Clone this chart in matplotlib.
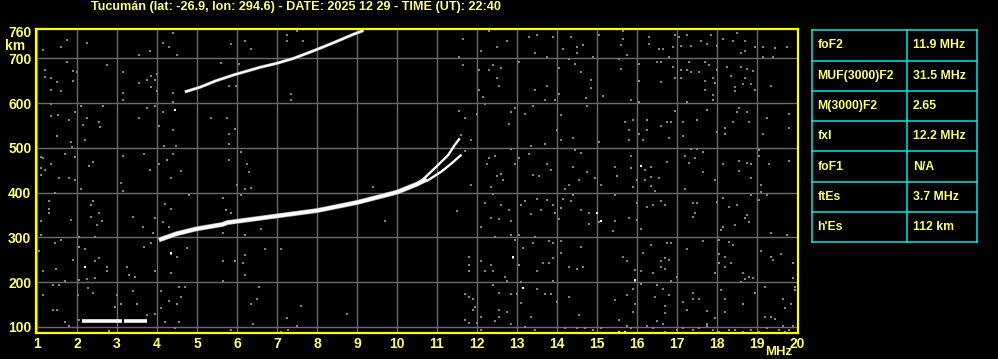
import matplotlib
matplotlib.use("Agg")
import matplotlib.pyplot as plt
import numpy as np

# ---------------- data ----------------
title = "Tucumán (lat: -26.9, lon: 294.6) - DATE: 2025 12 29 - TIME (UT): 22:40"
x_ticks = list(range(1, 21))
y_ticks = [100, 200, 300, 400, 500, 600, 700, 760]

# sporadic E trace (MHz, km)
es_freq = [2.12, 3.12, np.nan, 3.18, 3.76]
es_height = [114, 114, np.nan, 114, 114]

# F2 main trace (o-mode low part)
f2_freq = [4.10, 4.48, 4.98, 5.64, 5.75, 7.0, 8.0, 9.0, 10.0, 10.5, 10.69]
f2_height = [296, 308, 319, 329, 333, 348, 360, 378, 401, 419, 428]
# upper branch near critical frequency
f2o_freq = [10.55, 10.75, 11.03, 11.28, 11.44, 11.55]
f2o_height = [421, 438, 462, 484, 506, 519]
# lower branch
f2x_freq = [10.5, 10.78, 11.11, 11.36, 11.51, 11.59]
f2x_height = [419, 428, 447, 465, 477, 483]

# second-hop F2 trace
f2h_freq = [4.73, 5.06, 5.48, 5.92, 6.58, 7.0, 7.42, 7.92, 8.42, 8.92, 9.13]
f2h_height = [626, 635, 650, 663, 680, 689, 700, 717, 735, 754, 761]

# table
table_names = ["foF2", "MUF(3000)F2", "M(3000)F2", "fxI", "foF1", "ftEs", "h'Es"]
table_values = ["11.9 MHz", "31.5 MHz", "2.65", "12.2 MHz", "N/A", "3.7 MHz", "112 km"]

# background noise echoes (MHz, km)
noise_f = [
1.14,1.60,1.75,2.25,4.39,4.14,4.31,3.83,3.56,4.49,1.74,2.75,1.19,1.19,1.35,1.51,1.89,1.89,1.35,1.60,
1.99,3.14,3.85,3.99,3.95,3.75,3.56,3.85,3.99,3.14,4.39,3.15,4.39,5.60,1.35,2.09,2.64,3.74,3.95,4.14,
1.35,1.52,1.81,1.96,2.24,2.54,2.58,2.14,3.54,4.04,4.39,5.35,1.49,2.19,1.85,1.88,4.18,4.48,1.70,1.96,
1.09,1.16,1.35,1.09,1.19,1.09,2.29,2.39,3.14,3.68,3.83,4.04,4.24,4.39,4.59,1.55,1.79,1.96,2.10,3.10,
3.14,4.35,4.81,1.45,1.30,1.30,1.30,2.34,2.39,2.54,2.35,2.63,2.49,1.10,1.85,3.39,3.94,4.14,4.19,4.35,
4.29,3.64,3.89,5.64,5.73,1.10,1.45,1.60,2.04,2.45,2.06,2.21,1.04,1.89,2.44,2.54,2.75,2.75,3.24,3.44,
3.29,3.85,3.68,4.74,4.49,4.34,5.64,5.64,5.64,1.15,1.48,1.69,1.40,1.55,2.06,2.24,2.44,2.28,2.39,1.14,
2.03,2.99,3.39,3.94,4.35,4.11,4.55,4.69,4.59,4.29,4.51,4.09,3.49,3.09,2.94,1.40,1.51,1.69,1.81,2.06,
2.81,3.74,3.94,4.21,4.54,4.44,
5.85,6.19,6.34,7.25,7.25,7.65,7.50,6.05,5.79,5.98,7.35,7.35,5.75,5.94,5.79,5.79,6.09,5.79,6.24,6.29,
5.99,6.19,6.34,6.09,5.85,6.59,6.19,6.69,7.09,6.19,5.94,6.14,6.19,6.54,6.49,6.34,7.59,7.24,8.74,6.39,
7.49,9.39,9.69,5.85,7.09,7.27,
12.30,11.65,12.74,12.50,12.09,11.55,13.29,13.49,13.89,14.34,14.64,14.49,14.49,14.14,13.44,13.74,13.04,
11.65,12.04,12.29,12.39,12.59,12.50,12.54,12.04,12.14,12.19,13.44,13.74,13.94,13.69,14.04,14.59,14.44,
14.29,14.84,14.84,14.04,14.73,15.15,14.89,15.04,11.55,11.69,12.00,12.84,12.94,12.80,13.19,13.39,14.09,
11.59,11.84,11.69,12.29,12.44,12.24,12.84,13.04,12.94,12.59,12.49,12.64,12.34,11.84,13.29,13.34,13.69,
13.99,14.09,14.39,14.44,14.59,13.74,13.84,13.39,13.54,14.39,14.54,14.29,14.19,14.94,15.09,14.74,15.04,
14.74,11.49,12.19,12.39,12.59,12.34,12.54,12.80,12.84,13.09,13.19,13.34,13.49,13.59,13.74,13.89,13.94,
14.09,14.04,14.14,14.34,14.39,14.59,14.79,14.79,15.04,12.09,12.44,12.84,13.04,12.94,13.44,13.39,13.14,
13.79,13.89,14.09,14.09,14.59,11.79,11.79,11.79,12.09,12.34,12.19,12.39,12.89,13.04,13.49,13.64,13.79,
13.89,14.29,14.49,14.64,12.69,12.74,12.84,12.99,13.09,13.09,12.54,12.39,12.54,12.74,12.84,12.54,13.19,
13.34,13.49,13.69,13.84,13.89,13.99,14.29,14.54,11.69,11.69,11.79,11.89,11.89,11.94,11.99,11.79,12.09,
12.09,12.44,13.44,14.19,14.49,14.69,14.89,15.09,
15.65,15.65,15.60,15.75,16.30,16.30,16.55,16.65,16.80,16.90,16.95,17.05,17.10,17.25,17.35,17.60,17.75,
17.85,18.00,18.15,18.40,18.50,18.70,18.95,18.60,18.70,19.15,19.45,19.75,19.15,19.40,15.55,15.60,16.05,
16.05,16.50,16.60,16.60,16.90,16.95,17.10,17.10,17.30,17.25,17.35,17.55,17.70,17.80,17.70,17.90,18.00,
17.95,17.70,17.90,17.90,18.25,18.35,18.45,18.45,18.60,18.70,18.75,18.90,18.85,18.95,19.35,18.65,15.85,
16.05,16.95,17.25,17.75,18.55,18.50,18.75,19.25,19.80,15.70,15.90,16.25,16.60,16.75,16.85,15.80,15.80,
16.05,16.25,16.15,16.80,17.15,17.15,17.50,18.00,18.20,18.20,18.40,18.80,19.15,19.80,17.35,17.50,17.65,
17.20,17.30,17.45,17.65,16.75,18.15,18.55,18.75,18.85,18.55,18.85,19.05,19.05,19.30,19.80,15.45,15.50,
15.85,15.85,16.20,16.35,16.35,16.55,15.90,16.00,16.20,16.35,16.45,17.20,17.95,19.10,19.10,19.25,19.05,
18.85,15.45,16.00,16.25,16.40,16.60,16.70,17.40,17.50,17.45,17.40,18.00,18.15,18.30,18.50,18.70,18.75,
18.80,18.45,18.15,18.10,15.80,16.00,15.45,15.40,16.10,19.35,19.75,16.35,16.75,16.85,17.65,18.05,18.30,
18.40,19.10,16.15,17.25,15.65,15.75,16.60,16.70,16.80,18.05,18.20,18.05,18.20,18.35,19.35,19.60,19.40,
15.95,16.10,16.40,16.60,16.70,16.85,17.00,17.95,18.65,18.70,18.80,18.90,18.60,19.90,19.90,15.95,16.10,
16.50,16.65,16.80,15.90,15.75,15.45,15.95,15.90,16.45,16.70,16.70,16.50,16.65,17.40,17.55,17.40,17.15,
17.25,17.75,17.95,17.75,18.10,18.20,18.20,18.65,18.95,19.20,19.65,19.70,19.85,19.95,19.95,15.55,15.75,
15.85,16.25,16.40,16.70,17.00,17.15,17.40,17.55,17.75,17.90,18.05,18.30,18.45,18.65,18.85,19.05,19.20,
19.35,19.45,19.25,19.55,19.65,19.80,19.90,19.70,
]
noise_h = [
718,726,741,735,757,735,726,717,707,707,692,684,674,659,657,648,672,650,629,626,
670,670,661,666,652,652,644,637,626,623,622,607,603,689,598,593,593,588,593,581,
571,573,562,581,566,558,546,550,567,549,540,567,526,518,514,501,505,505,486,479,
480,477,464,455,451,439,460,468,482,486,451,464,473,487,448,433,433,428,409,422,
404,433,395,399,381,363,354,373,381,355,346,337,328,337,340,346,343,334,375,363,
323,324,311,387,361,306,288,294,300,300,279,274,270,250,248,253,235,226,235,212,
216,287,278,277,257,263,309,248,203,226,229,203,194,194,205,207,209,186,175,171,
171,171,181,226,220,181,190,190,168,157,151,143,151,151,145,138,138,111,103,116,
90,126,129,111,111,98,
732,739,721,752,739,739,762,687,638,638,620,607,567,542,531,509,491,473,464,446,
417,408,411,395,354,319,305,274,274,261,247,243,216,189,162,151,147,120,129,107,
102,413,337,93,89,93,
761,743,739,725,716,703,748,752,748,748,730,725,712,721,712,703,692,
684,674,674,684,679,657,639,629,613,598,629,638,607,607,678,669,687,
698,652,634,620,611,616,703,752,582,567,576,581,590,553,576,593,573,
529,518,494,477,482,464,497,478,464,442,437,428,413,417,486,505,509,
540,518,522,495,489,464,451,439,437,457,428,417,409,433,416,446,514,
593,359,378,397,372,343,341,361,337,372,381,352,386,361,384,372,354,
365,341,386,381,395,361,354,331,335,324,302,305,305,294,302,287,276,
293,287,293,266,278,257,238,226,248,238,226,226,253,238,226,244,244,
253,235,230,235,212,203,173,173,201,153,175,194,138,133,107,122,99,
122,184,173,173,203,156,168,126,173,116,168,162,138,145,108,108,123,
93,113,93,98,98,98,93,98,
760,743,730,707,747,733,721,721,704,725,752,747,728,752,728,739,733,
752,728,743,739,757,739,726,712,716,726,724,726,704,704,698,676,687,
650,691,691,646,680,656,657,674,691,674,669,669,691,684,650,657,674,
644,629,617,607,680,661,635,626,680,656,676,672,643,629,639,643,607,
602,583,603,585,590,579,581,567,576,558,562,562,549,558,558,540,518,
531,540,518,522,558,527,562,536,544,532,558,558,531,544,497,497,491,
482,467,477,446,468,465,471,467,464,449,433,495,482,464,471,458,437,
482,455,451,458,436,433,413,428,428,415,404,408,428,417,402,395,384,
395,395,376,369,373,381,373,378,378,355,346,380,387,369,373,343,350,
335,328,324,317,344,339,337,314,319,311,306,283,288,288,292,294,290,
283,270,266,274,257,248,248,253,250,264,257,244,235,244,257,263,250,
227,226,221,235,230,203,212,221,221,208,212,210,200,244,209,203,197,
194,185,171,185,171,160,151,134,168,132,147,113,107,163,163,177,156,
138,136,120,107,183,162,133,151,177,190,162,142,151,183,190,116,102,
98,103,98,89,93,98,93,98,103,93,89,93,93,89,93,89,122,
122,117,98,93,103,93,103,89,
]
bright_f = [4.45, 4.35, 2.20, 12.89, 13.14, 14.99, 15.09, 16.10, 15.95, 15.55, 15.70]
bright_h = [585, 266, 235, 256, 186, 355, 337, 460, 205, 89, 89]

# ---------------- styling ----------------
YEL = "#ffff80"
TXT = "#ffff70"
fam = ["Liberation Sans", "DejaVu Sans"]

fig = plt.figure(figsize=(9.98, 3.59), dpi=100, facecolor="black")
ax = fig.add_axes([35.5 / 998, (359 - 333.3) / 359, (798 - 35.5) / 998, (333.3 - 29.3) / 359])
ax.set_facecolor("black")
ax.set_xlim(0.9625, 20.025)
ax.set_ylim(85.9, 764.8)

# grid
for xv in x_ticks[:-1]:
    ax.axvline(xv, color="#6a6a6a", lw=1.0, zorder=1)
for yv in y_ticks[:-1]:
    ax.axhline(yv, color="#6a6a6a", lw=1.0, zorder=1)

# noise
ax.plot(noise_f, noise_h, ls="none", marker="s", ms=1.6, mew=0, color="#858585", zorder=2)
ax.plot(bright_f, bright_h, ls="none", marker="s", ms=1.6, mew=0, color="white", zorder=2)

# traces
ax.plot(es_freq, es_height, color="white", lw=2.6, solid_capstyle="butt", zorder=3)
ax.plot(f2_freq, f2_height, color="#9a9a9a", lw=3.6, zorder=3)
ax.plot(f2_freq, f2_height, color="white", lw=2.6, zorder=4)
ax.plot(f2o_freq, f2o_height, color="white", lw=1.7, zorder=4)
ax.plot(f2x_freq, f2x_height, color="white", lw=1.7, zorder=4)
ax.plot(f2h_freq, f2h_height, color="#8a8a8a", lw=2.4, zorder=3)
ax.plot(f2h_freq, f2h_height, color="white", lw=1.5, zorder=4)

for s in ax.spines.values():
    s.set_color("#ffff00")
    s.set_linewidth(1.6)
    s.set_zorder(6)

ax.set_xticks(x_ticks)
ax.set_xticklabels([str(v) for v in x_ticks])
ax.set_yticks(y_ticks)
ax.set_yticklabels([str(v) for v in y_ticks])
ax.tick_params(length=0, colors=TXT, pad=3)
for lab in ax.get_xticklabels() + ax.get_yticklabels():
    lab.set_fontfamily(fam)
    lab.set_fontweight("bold")
    lab.set_fontsize(10)
    lab.set_color(TXT)

fig.text(5 / 998, 1 - 46 / 359, "km", color=TXT, fontsize=10, fontweight="bold",
         family=fam, ha="left", va="center")
fig.text(792 / 998, 1 - 352 / 359, "MHz", color=TXT, fontsize=9.5, fontweight="bold",
         family=fam, ha="right", va="center")
fig.text(91 / 998, 1 - 7 / 359, title, color=YEL, fontsize=9.1, fontweight="bold",
         family=fam, ha="left", va="center")

# table
tax = fig.add_axes([812.3 / 998, (359 - 242.3) / 359, 165 / 998, 212 / 359])
tax.set_facecolor("black")
tax.set_xlim(0, 1)
tax.set_ylim(len(table_names), 0)
tax.axis("off")
CY = "#00e8e8"
for i in range(len(table_names) + 1):
    tax.plot([0, 1], [i, i], color=CY, lw=1.1, clip_on=False)
for xv in [0, 0.574, 1]:
    tax.plot([xv, xv], [0, len(table_names)], color=CY, lw=1.1, clip_on=False)
for i, (n, v) in enumerate(zip(table_names, table_values)):
    tax.text(0.03, i + 0.5, n, color=TXT, fontsize=8.8, fontweight="bold", family=fam,
             ha="left", va="center")
    tax.text(0.61, i + 0.5, v, color=TXT, fontsize=8.8, fontweight="bold", family=fam,
             ha="left", va="center")

fig.savefig("out.png", dpi=100, facecolor="black")
